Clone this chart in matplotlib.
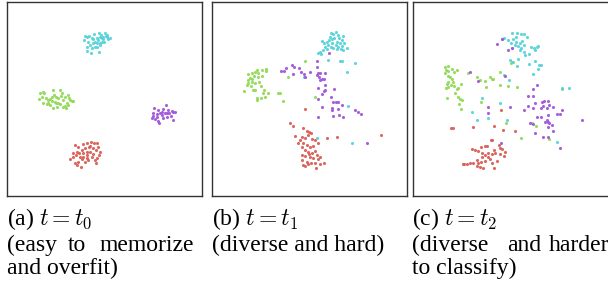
import matplotlib
matplotlib.use("Agg")
import matplotlib.pyplot as plt
import seaborn as sns

# t-SNE style scatter in three panels, point positions
# (units are pixels of a 3x zoom of each panel, y pointing down)

palette = sns.hls_palette(4)  # red, green, cyan, purple
c_red, c_green, c_cyan, c_purple = palette

# ----- panel (a)
a_cyan = [(255, 108), (262, 112), (252, 120), (268, 107), (275, 115), (283, 103), (296, 100),
          (315, 98), (300, 110), (305, 115), (310, 118), (320, 112), (330, 115), (295, 120),
          (285, 125), (290, 130), (278, 128), (270, 135), (262, 140), (275, 145), (285, 140),
          (300, 135), (305, 125), (312, 125), (325, 118), (298, 155), (272, 158), (260, 152),
          (290, 115), (302, 105), (318, 108), (280, 118), (265, 125), (292, 140), (300, 128),
          (308, 112), (322, 105)]
a_green = [(120, 278), (128, 276), (132, 280), (118, 298), (125, 290), (138, 295), (145, 300),
           (150, 298), (155, 302), (160, 270), (162, 285), (168, 290), (175, 295), (180, 270),
           (185, 280), (190, 300), (195, 290), (205, 285), (210, 300), (215, 303), (220, 302),
           (200, 310), (195, 318), (180, 312), (170, 320), (160, 325), (150, 315), (140, 312),
           (130, 310), (165, 305), (175, 308), (188, 322), (205, 315), (198, 325), (155, 290),
           (145, 308), (208, 295), (183, 288), (168, 310)]
a_purple = [(462, 325), (475, 330), (490, 328), (497, 315), (505, 330), (515, 332), (525, 335),
            (520, 335), (460, 340), (470, 342), (480, 340), (485, 345), (495, 340), (502, 350),
            (512, 348), (455, 355), (465, 358), (475, 362), (478, 368), (490, 355), (518, 360),
            (470, 350), (485, 335), (500, 338), (458, 347), (508, 340)]
a_red = [(225, 435), (235, 440), (248, 432), (262, 428), (272, 425), (282, 428), (290, 430),
         (295, 440), (288, 450), (268, 440), (255, 445), (245, 450), (232, 455), (220, 460),
         (218, 470), (228, 465), (240, 470), (250, 460), (260, 465), (270, 455), (280, 462),
         (298, 465), (300, 455), (292, 475), (285, 480), (275, 470), (265, 480), (255, 485),
         (245, 478), (235, 485), (225, 490), (230, 495), (242, 500), (210, 478), (288, 490),
         (260, 475), (250, 470), (270, 438), (278, 445), (238, 460), (262, 455)]

# ----- panel (b)
b_cyan = [(378, 100), (385, 102), (392, 97), (400, 105), (415, 108), (350, 122), (358, 128),
          (365, 125), (372, 120), (380, 118), (388, 115), (395, 125), (405, 128), (410, 120),
          (418, 128), (425, 145), (360, 140), (370, 135), (378, 140), (385, 143), (392, 135),
          (400, 140), (408, 148), (415, 150), (355, 150), (345, 155), (338, 158), (348, 162),
          (365, 148), (395, 148), (382, 130), (375, 110), (402, 115), (412, 138),
          (370, 180), (405, 183), (410, 183), (450, 190), (425, 215), (298, 232),
          (430, 318), (442, 428), (335, 415)]
b_green = [(128, 222), (140, 220), (150, 215), (155, 210), (160, 218), (172, 210), (182, 207),
           (183, 213), (148, 228), (135, 235), (128, 240), (140, 245), (150, 248), (162, 245),
           (125, 255), (138, 258), (145, 270), (150, 270), (168, 258), (178, 270), (175, 280),
           (190, 278), (180, 292), (168, 295), (155, 295), (155, 300), (118, 272), (130, 250),
           (140, 238), (172, 228), (160, 232),
           (300, 183), (248, 230), (225, 278), (218, 280), (233, 302), (330, 290)]
b_purple = [(228, 212), (238, 212), (243, 203), (260, 195), (268, 200), (282, 205), (288, 215),
            (265, 222), (298, 222), (316, 215), (335, 183), (335, 200), (338, 218), (345, 220),
            (360, 220), (335, 225), (342, 230), (350, 238), (358, 238), (345, 240), (372, 158),
            (360, 255), (360, 270), (358, 272), (340, 265), (350, 282), (340, 297), (386, 268),
            (378, 290), (384, 305), (392, 307), (398, 307), (352, 320), (382, 325), (382, 330),
            (400, 327), (412, 315), (450, 330), (458, 335), (468, 343), (340, 350), (385, 347),
            (402, 345), (415, 350), (487, 430), (300, 230)]
b_red = [(295, 385), (305, 393), (312, 395), (318, 398), (308, 405), (290, 412), (300, 415),
         (285, 420), (320, 418), (330, 420), (340, 430), (295, 430), (305, 435), (315, 440),
         (325, 438), (290, 440), (300, 450), (310, 455), (320, 458), (330, 452), (335, 465),
         (345, 470), (290, 465), (300, 468), (315, 470), (325, 475), (340, 478), (292, 480),
         (305, 485), (318, 490), (330, 490), (345, 492), (358, 488), (295, 495), (310, 493),
         (333, 503), (300, 498), (280, 428), (312, 462),
         (300, 327), (255, 368), (265, 378), (365, 413), (397, 410), (528, 405), (270, 408)]

# ----- panel (c)
c_cyan_pts = [(322, 98), (335, 100), (348, 102), (358, 103), (365, 112), (298, 113), (292, 118),
              (310, 120), (325, 118), (332, 125), (345, 128), (350, 123), (318, 130), (330, 135),
              (340, 138), (348, 145), (358, 135), (378, 140), (388, 145), (395, 140), (398, 138),
              (390, 150), (372, 162), (358, 155), (345, 150), (320, 145), (315, 180), (322, 185),
              (338, 178), (335, 197), (372, 192), (390, 183), (402, 195), (408, 195), (400, 207),
              (385, 222), (298, 225), (312, 240), (470, 265), (492, 265), (230, 295), (285, 310),
              (200, 335), (250, 355), (215, 360), (305, 360), (455, 425), (360, 165), (332, 110)]
c_green_pts = [(120, 200), (128, 197), (122, 210), (130, 212), (140, 208), (148, 215), (155, 210),
               (120, 218), (128, 228), (135, 232), (142, 238), (130, 245), (125, 252), (138, 255),
               (148, 258), (155, 268), (160, 265), (168, 252), (122, 265), (130, 260), (150, 278),
               (158, 290), (165, 298), (170, 300), (162, 312), (168, 328), (127, 293), (145, 245),
               (188, 220), (215, 232), (225, 240), (240, 242), (255, 232), (260, 237), (265, 237),
               (242, 262), (285, 215), (285, 255), (310, 257), (335, 262), (228, 305), (325, 185),
               (318, 188), (472, 268), (302, 370), (392, 378), (380, 370), (347, 413), (432, 418)]
c_purple_pts = [(275, 133), (290, 118), (310, 150), (322, 145), (195, 215), (220, 242), (300, 228),
                (385, 268), (396, 255), (370, 288), (385, 287), (248, 320), (315, 322), (357, 330),
                (370, 318), (390, 310), (384, 323), (410, 305), (415, 318), (408, 325), (418, 302),
                (428, 303), (432, 315), (427, 325), (445, 320), (470, 330), (455, 342), (465, 342),
                (428, 345), (395, 350), (408, 352), (420, 365), (428, 365), (432, 370), (425, 360),
                (375, 370), (385, 372), (430, 380), (440, 375), (445, 392), (390, 398), (415, 412),
                (430, 410), (532, 360), (466, 444), (288, 428), (250, 340)]
c_red_pts = [(138, 383), (145, 385), (205, 380), (268, 378), (295, 390), (330, 393), (288, 330),
             (258, 420), (262, 420), (228, 440), (240, 437), (245, 438), (202, 448), (210, 450),
             (218, 452), (232, 460), (240, 465), (250, 458), (268, 450), (270, 460), (282, 435),
             (285, 445), (290, 448), (300, 455), (285, 462), (298, 468), (230, 470), (250, 470),
             (275, 482), (255, 478), (262, 488), (240, 482), (228, 485), (220, 490), (205, 490),
             (195, 490), (185, 492), (178, 492), (175, 493), (215, 498), (225, 500), (235, 503),
             (268, 503), (215, 480), (260, 462)]

captions = [
    ["(a) $t = t_0$", "(easy  to  memorize", "and overfit)"],
    ["(b) $t = t_1$", "(diverse and hard)", ""],
    ["(c) $t = t_2$", "(diverse  and  harder", "to classify)"],
]

plt.rcParams["mathtext.fontset"] = "cm"
W, H = 608, 285
fig = plt.figure(figsize=(W / 100, H / 100), dpi=100)

# panel boxes in pixels: left, right, top, bottom, plus zoom-unit limits
boxes = [
    (7.3, 201.7, 2.3, 196.3, (22, 605)),
    (212.3, 407.3, 2.3, 196.3, (22, 607)),
    (413.3, 609.5, 2.3, 196.3, (25, 613)),
]
panels = [
    [(a_red, c_red), (a_green, c_green), (a_cyan, c_cyan), (a_purple, c_purple)],
    [(b_red, c_red), (b_green, c_green), (b_cyan, c_cyan), (b_purple, c_purple)],
    [(c_red_pts, c_red), (c_green_pts, c_green), (c_cyan_pts, c_cyan), (c_purple_pts, c_purple)],
]

for (l, r, t, b, xl), groups in zip(boxes, panels):
    ax = fig.add_axes([l / W, (H - b) / H, (r - l) / W, (b - t) / H])
    for pts, col in groups:
        xs = [p[0] for p in pts]
        ys = [p[1] for p in pts]
        ax.scatter(xs, ys, s=5, color=col, marker="o", linewidths=0, alpha=0.95)
    ax.set_xlim(*xl)
    ax.set_ylim(589, 7)
    ax.set_xticks([])
    ax.set_yticks([])
    for sp in ax.spines.values():
        sp.set_color("#333333")
        sp.set_linewidth(1.0)


def put(x, y, s, ha="left"):
    fig.text(x / W, (H - y) / H, s, ha=ha, va="baseline", fontsize=17,
             family="Liberation Serif", color="black")


baselines = [225, 251, 274]
# line 1 and the short lines
put(7.3, baselines[0], captions[0][0])
put(212.3, baselines[0], captions[1][0])
put(412.3, baselines[0], captions[2][0])
put(212.3, baselines[1], captions[1][1])
put(7.3, baselines[2], captions[0][2])
put(412.3, baselines[2], captions[2][2])

# justified lines: words placed at their spread-out positions
for word, x in zip(captions[0][1].split(), [7.3, 68, 99]):
    put(x, baselines[1], word)
for word, x in zip(captions[2][1].split(), [412.3, 506.7, 549]):
    put(x, baselines[1], word)

fig.savefig("out.png", dpi=100)
